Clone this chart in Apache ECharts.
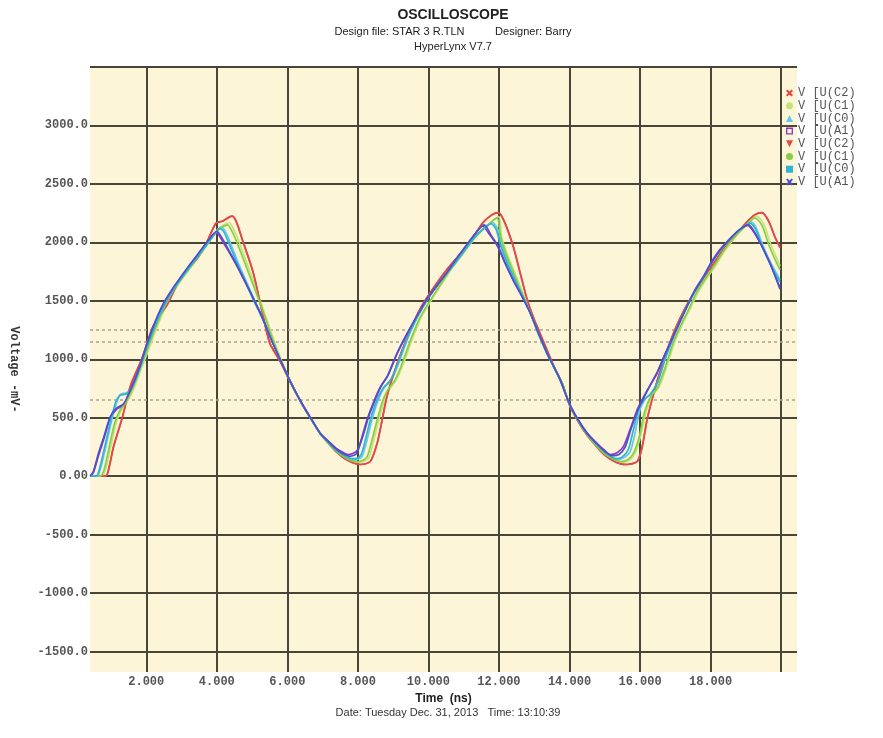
<!DOCTYPE html>
<html>
<head>
<meta charset="utf-8">
<script src="https://cdn.jsdelivr.net/npm/echarts@6/dist/echarts.min.js"></script>
<style>html,body{margin:0;padding:0;background:#fff}#c{width:883px;height:738px}</style>
</head>
<body>
<div id="c"></div>
<script>
// ---- tick labels ----
const xTickValues = [2, 4, 6, 8, 10, 12, 14, 16, 18, 20];
const xLabelValues = [2, 4, 6, 8, 10, 12, 14, 16, 18];
const yTickValues = [-1500, -1000, -500, 0, 500, 1000, 1500, 2000, 2500, 3000, 3500];
const yLabelValues = [-1500, -1000, -500, 0, 500, 1000, 1500, 2000, 2500, 3000];
const thresholdLevels = [1250, 1150, 650];

// ---- legend ----
const seriesKeys = ['C2a', 'C1a', 'C0a', 'A1a', 'C2b', 'C1b', 'C0b', 'A1b'];
const legendLabels = ['V [U(C2)', 'V [U(C1)', 'V [U(C0)', 'V [U(A1)', 'V [U(C2)', 'V [U(C1)', 'V [U(C0)', 'V [U(A1)'];

// ---- waveform data: [time ns, voltage mV] ----
const waveC2 = [[0.41,0],[0.85,0],[0.95,80],[1.07,250],[1.32,500],[1.55,770],[1.87,1000],[2.2,1285],[2.6,1470],[2.96,1690],[3.2,1780],[3.44,1860],[3.7,1990],[3.98,2165],[4.15,2180],[4.43,2225],[4.55,2180],
[4.75,2000],[5.03,1745],[5.29,1400],[5.5,1140],[5.8,980],[6.1,795],[6.4,625],[6.7,475],[6.93,365],[7.2,270],[7.4,205],[7.6,155],[7.85,115],[8.07,100],[8.35,125],
[8.55,285],[8.69,485],[8.83,690],[9.11,960],[9.35,1150],[9.57,1310],[9.8,1450],[10.05,1570],[10.53,1770],[11.1,1970],[11.55,2170],[11.8,2235],[11.98,2255],[12.15,2180],
[12.4,1970],[12.6,1740],[12.8,1510],[13.0,1340],[13.16,1225],[13.4,1050],[13.6,910],[13.8,790],[14.0,610],[14.25,465],[14.5,350],[14.75,260],[15.0,180],[15.25,130],[15.45,105],[15.63,100],
[15.92,125],[16.06,250],[16.2,485],[16.34,655],[16.5,830],[16.75,1060],[17.0,1260],[17.25,1420],[17.5,1555],[17.8,1695],[18.1,1825],[18.4,1955],[18.7,2055],[19.0,2165],[19.25,2235],[19.46,2255],
[19.65,2180],[19.82,2050],[19.97,1955]];

const waveC1a = [[0.41,0],[0.75,0],[0.85,60],[1.0,260],[1.15,460],[1.3,570],[1.45,630],[1.65,750],[1.85,910],[2.05,1070],[2.3,1270],[2.55,1450],[2.8,1590],[3.05,1700],[3.3,1800],[3.55,1900],[3.8,2010],[4.02,2110],[4.35,2170],
[4.48,2110],[4.65,1990],[4.88,1800],[5.12,1600],[5.36,1390],[5.6,1180],[5.82,1000],[6.1,800],[6.4,625],[6.7,475],[6.93,365],[7.2,268],[7.4,206],[7.6,160],[7.8,128],[8.02,118],[8.3,150],
[8.46,320],[8.6,490],[8.76,650],[8.9,745],[9.1,830],[9.3,970],[9.55,1180],[9.8,1360],[10.05,1490],[10.35,1630],[10.65,1770],[10.95,1890],[11.25,2010],[11.55,2110],[11.85,2190],[12.0,2220],
[12.08,2040],[12.25,1890],[12.45,1740],[12.65,1590],[12.85,1450],[13.05,1300],[13.25,1150],[13.42,1025],[13.6,910],[13.8,790],[14.0,612],[14.25,468],[14.5,352],[14.75,262],[15.0,186],[15.25,140],[15.48,118],
[15.7,135],[15.88,210],[16.03,360],[16.17,550],[16.35,685],[16.55,770],[16.75,930],[17.0,1160],[17.25,1330],[17.45,1450],[17.65,1575],[17.9,1695],[18.15,1805],[18.4,1925],[18.7,2045],[19.0,2140],[19.3,2225],
[19.5,2160],[19.7,1990],[19.88,1860],[19.97,1800]];

const waveC1b = [[0.41,0],[0.7,0],[0.8,50],[0.95,250],[1.1,450],[1.25,560],[1.4,620],[1.6,740],[1.8,900],[2.0,1060],[2.25,1260],[2.5,1440],[2.75,1580],[3.0,1690],[3.25,1790],[3.5,1890],[3.75,1990],[3.98,2090],[4.3,2150],
[4.42,2100],[4.57,2000],[4.8,1820],[5.05,1620],[5.3,1420],[5.55,1200],[5.8,1000],[6.1,800],[6.4,625],[6.7,475],[6.93,365],[7.2,270],[7.4,210],[7.6,165],[7.8,135],[8.0,125],[8.25,160],
[8.4,310],[8.55,485],[8.7,640],[8.85,740],[9.05,820],[9.25,960],[9.5,1170],[9.75,1350],[10.0,1480],[10.3,1620],[10.6,1760],[10.9,1880],[11.2,2000],[11.5,2100],[11.8,2180],[11.95,2210],
[12.05,2050],[12.2,1900],[12.4,1750],[12.6,1600],[12.8,1460],[13.0,1310],[13.2,1160],[13.4,1030],[13.6,910],[13.8,790],[14.0,615],[14.25,470],[14.5,355],[14.75,265],[15.0,190],[15.25,145],[15.45,125],
[15.65,140],[15.82,200],[15.98,340],[16.12,540],[16.3,680],[16.5,760],[16.7,920],[16.95,1150],[17.2,1320],[17.4,1440],[17.6,1570],[17.85,1690],[18.1,1800],[18.35,1920],[18.65,2040],[18.95,2130],[19.25,2210],
[19.45,2150],[19.65,1980],[19.85,1840],[19.97,1765]];

const waveC0a = [[0.41,0],[0.6,0],[0.7,60],[0.85,250],[1.0,450],[1.15,620],[1.27,700],[1.45,715],[1.6,770],[1.8,910],[2.0,1090],[2.25,1290],[2.5,1460],[2.75,1590],[3.0,1700],[3.25,1800],[3.5,1900],[3.75,2000],[3.98,2090],[4.12,2130],
[4.25,2090],[4.38,2000],[4.6,1830],[4.86,1650],[5.1,1485],[5.32,1335],[5.55,1165],[5.8,995],[6.1,800],[6.4,625],[6.7,475],[6.93,365],[7.2,275],[7.4,215],[7.6,175],[7.87,140],[8.0,145],
[8.12,170],[8.26,310],[8.4,485],[8.58,655],[8.75,760],[8.95,820],[9.15,960],[9.4,1170],[9.6,1310],[9.85,1450],[10.1,1570],[10.4,1690],[10.7,1800],[11.0,1920],[11.3,2040],[11.6,2130],[11.82,2170],
[11.98,2100],[12.1,1960],[12.3,1800],[12.5,1650],[12.7,1520],[12.9,1390],[13.1,1230],[13.36,1050],[13.55,935],[13.73,825],[14.0,615],[14.25,475],[14.5,360],[14.75,275],[15.0,200],[15.2,160],[15.35,140],
[15.55,160],[15.72,210],[15.86,370],[16.0,570],[16.15,660],[16.3,700],[16.5,800],[16.7,990],[16.94,1180],[17.15,1330],[17.33,1450],[17.55,1580],[17.8,1700],[18.0,1810],[18.27,1930],[18.55,2030],[18.85,2110],[19.15,2175],
[19.3,2120],[19.5,1960],[19.75,1800],[19.97,1680]];

const waveC0b = [[0.41,0],[0.58,0],[0.68,70],[0.83,260],[0.98,460],[1.13,630],[1.25,690],[1.45,705],[1.6,760],[1.8,905],[2.0,1085],[2.25,1285],[2.5,1455],[2.75,1585],[3.0,1695],[3.25,1795],[3.5,1895],[3.75,1995],[3.98,2085],[4.08,2120],
[4.2,2090],[4.33,2000],[4.55,1840],[4.8,1670],[5.05,1500],[5.32,1330],[5.55,1165],[5.8,995],[6.1,800],[6.4,625],[6.7,475],[6.93,366],[7.2,278],[7.4,218],[7.6,178],[7.82,150],[7.98,152],
[8.1,190],[8.22,320],[8.36,490],[8.54,650],[8.72,755],[8.92,820],[9.12,955],[9.38,1165],[9.6,1310],[9.85,1450],[10.1,1570],[10.4,1690],[10.7,1800],[11.0,1920],[11.3,2040],[11.6,2125],[11.78,2160],
[11.92,2110],[12.05,1970],[12.25,1810],[12.5,1650],[12.7,1520],[12.9,1390],[13.1,1230],[13.36,1050],[13.55,935],[13.73,825],[14.0,615],[14.25,475],[14.5,362],[14.75,278],[15.0,205],[15.2,165],[15.32,150],
[15.5,165],[15.67,230],[15.8,380],[15.95,560],[16.1,650],[16.3,705],[16.5,805],[16.7,995],[16.94,1185],[17.15,1335],[17.33,1452],[17.55,1582],[17.8,1702],[18.0,1812],[18.27,1932],[18.55,2032],[18.85,2112],[19.12,2165],
[19.28,2110],[19.48,1950],[19.75,1780],[19.97,1660]];

const waveA1a = [[0.41,0],[0.5,30],[0.65,180],[0.8,320],[0.98,500],[1.15,570],[1.36,610],[1.6,760],[1.83,940],[2.02,1120],[2.25,1310],[2.49,1470],[2.75,1600],[2.96,1690],[3.2,1790],[3.44,1885],[3.7,1990],[3.98,2085],
[4.2,1990],[4.38,1900],[4.62,1770],[4.86,1625],[5.1,1480],[5.32,1340],[5.55,1170],[5.8,1000],[6.1,800],[6.4,630],[6.7,480],[6.93,370],[7.2,290],[7.4,235],[7.6,200],[7.73,185],[7.9,200],
[8.0,230],[8.12,340],[8.26,485],[8.44,630],[8.63,760],[8.85,860],[9.1,1040],[9.35,1190],[9.57,1310],[9.8,1430],[9.96,1510],[10.25,1630],[10.53,1740],[10.8,1860],[11.0,1940],[11.25,2040],[11.53,2140],
[11.75,2060],[11.95,1970],[12.15,1840],[12.4,1680],[12.65,1540],[12.88,1400],[13.1,1240],[13.36,1055],[13.55,940],[13.73,830],[14.0,620],[14.25,480],[14.5,370],[14.75,290],[15.0,220],[15.15,185],[15.35,200],
[15.53,255],[15.72,400],[15.92,570],[16.06,655],[16.25,760],[16.48,885],[16.7,1040],[16.94,1200],[17.15,1340],[17.33,1455],[17.55,1590],[17.8,1710],[18.0,1820],[18.27,1940],[18.55,2030],[18.8,2100],[19.05,2145],
[19.2,2100],[19.4,2000],[19.68,1825],[19.97,1610]];

const waveA1b = [[0.41,0],[0.5,40],[0.65,200],[0.8,340],[0.98,510],[1.15,580],[1.36,620],[1.6,770],[1.83,950],[2.02,1130],[2.25,1320],[2.49,1480],[2.75,1605],[2.96,1695],[3.2,1795],[3.44,1890],[3.7,1995],[4.0,2095],
[4.2,2010],[4.38,1910],[4.62,1775],[4.86,1630],[5.1,1480],[5.32,1335],[5.55,1165],[5.8,995],[6.1,800],[6.4,628],[6.7,478],[6.93,368],[7.2,285],[7.4,228],[7.6,190],[7.78,170],[7.95,190],
[8.05,260],[8.18,380],[8.3,505],[8.47,640],[8.65,765],[8.85,865],[9.1,1045],[9.35,1195],[9.57,1315],[9.8,1435],[9.96,1515],[10.25,1635],[10.53,1745],[10.8,1865],[11.0,1945],[11.25,2045],[11.58,2150],
[11.8,2050],[11.98,1965],[12.15,1840],[12.4,1680],[12.65,1540],[12.88,1400],[13.1,1240],[13.36,1055],[13.55,940],[13.73,830],[14.0,618],[14.25,478],[14.5,366],[14.75,285],[15.0,212],[15.2,175],[15.4,185],
[15.58,250],[15.75,410],[15.95,575],[16.08,655],[16.25,755],[16.48,880],[16.7,1035],[16.94,1195],[17.15,1335],[17.33,1450],[17.55,1585],[17.8,1705],[18.0,1815],[18.27,1935],[18.55,2030],[18.8,2105],[19.08,2150],
[19.22,2100],[19.42,1990],[19.7,1810],[19.97,1600]];

const seriesData = [waveC2, waveC1a, waveC0a, waveA1a, waveC2, waveC1b, waveC0b, waveA1b];
const seriesColors = ['#e8413c', '#c6e27c', '#66c8e8', '#8e3bbf', '#e04a4a', '#86cf44', '#2fb3d6', '#4b4fd0'];

// legend icons
const ICON_X = 'path://M0,2L2,0L5,3L8,0L10,2L7,5L10,8L8,10L5,7L2,10L0,8L3,5Z';
const ICON_SQ = 'path://M0,0H10V10H0Z M2,2V8H8V2Z';
const ICON_DOWN = 'path://M0,0L10,0L5,10Z';
const seriesIcons = [ICON_X, 'circle', 'triangle', ICON_SQ, ICON_DOWN, 'circle', 'rect', ICON_X];

const labelMap = {};
seriesKeys.forEach((k, i) => { labelMap[k] = legendLabels[i]; });

const chart = echarts.init(document.getElementById('c'), null, { renderer: 'canvas' });

const gridLine = { show: true, lineStyle: { color: '#4a4637', width: 2, type: 'solid' } };
const tickFont = { fontFamily: 'Liberation Mono', fontWeight: 'bold', fontSize: 12, color: '#555' };

const series = seriesKeys.map((k, i) => {
  const s = {
    name: k,
    type: 'line',
    data: seriesData[i],
    showSymbol: false,
    symbol: 'none',
    smooth: 0.25,
    color: seriesColors[i],
    lineStyle: { width: 1.7, color: seriesColors[i] },
    emphasis: { disabled: true },
    z: 3
  };
  if (i === 0) {
    s.markLine = {
      silent: true,
      symbol: 'none',
      label: { show: false },
      lineStyle: { type: [3, 3], color: '#aaa394', width: 1.5 },
      z: 2,
      data: thresholdLevels.map(v => ({ yAxis: v }))
    };
  }
  return s;
});

chart.setOption({
  animation: false,
  backgroundColor: '#ffffff',
  title: {
    text: 'OSCILLOSCOPE',
    subtext: 'Design file: STAR 3 R.TLN          Designer: Barry\nHyperLynx V7.7',
    left: 448,
    textAlign: 'center',
    top: 3,
    itemGap: 2,
    textStyle: { fontFamily: 'Liberation Sans', fontSize: 14, fontWeight: 'bold', color: '#222' },
    subtextStyle: { fontFamily: 'Liberation Sans', fontSize: 11, color: '#222', lineHeight: 15 }
  },
  legend: {
    orient: 'vertical',
    left: 781,
    top: 82,
    itemWidth: 7,
    itemHeight: 7,
    itemGap: 0.7,
    selectedMode: false,
    formatter: name => labelMap[name],
    textStyle: { fontFamily: 'Liberation Mono', fontSize: 12, lineHeight: 11.7, color: '#555' },
    data: seriesKeys.map((k, i) => ({ name: k, icon: seriesIcons[i] }))
  },
  grid: {
    left: 90, right: 86, top: 67, bottom: 66,
    show: true, backgroundColor: '#fcf5d7', borderWidth: 0
  },
  xAxis: {
    type: 'value',
    min: 0.405,
    max: 20.45,
    name: 'Time  (ns)',
    nameLocation: 'middle',
    nameGap: 19,
    nameTextStyle: { fontFamily: 'Liberation Sans', fontWeight: 'bold', fontSize: 12, color: '#222' },
    axisLine: { show: false },
    axisTick: { show: false, customValues: xTickValues },
    splitLine: gridLine,
    axisLabel: Object.assign({ customValues: xLabelValues, margin: 4, formatter: v => v.toFixed(3) }, tickFont)
  },
  yAxis: {
    type: 'value',
    min: -1675,
    max: 3500,
    name: 'Voltage -mV-',
    nameLocation: 'middle',
    nameRotate: -90,
    nameGap: 70,
    nameTextStyle: { fontFamily: 'Liberation Mono', fontWeight: 'bold', fontSize: 12, color: '#333' },
    axisLine: { show: false },
    axisTick: { show: false, customValues: yTickValues },
    splitLine: gridLine,
    axisLabel: Object.assign({ customValues: yLabelValues, margin: 2, formatter: v => (v === 0 ? '0.00' : v.toFixed(1)) }, tickFont)
  },
  graphic: [{
    type: 'text',
    style: {
      text: 'Date: Tuesday Dec. 31, 2013   Time: 13:10:39',
      x: 448, y: 713,
      textAlign: 'center', textVerticalAlign: 'middle',
      font: '11px "Liberation Sans"',
      fill: '#333'
    }
  }],
  series: series
});
</script>
</body>
</html>
